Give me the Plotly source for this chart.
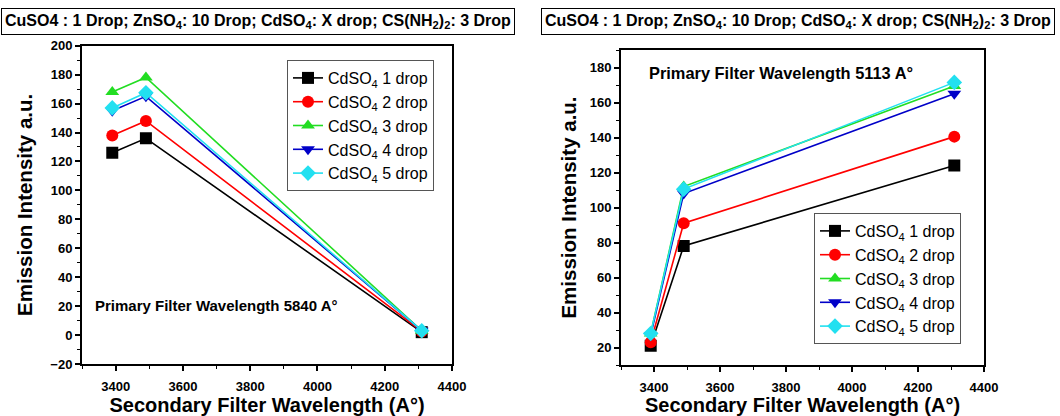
import plotly.graph_objects as go

# ---- data ----
wavelength = [3390, 3490, 4310]
series_names = ["CdSO<sub>4</sub> 1 drop", "CdSO<sub>4</sub> 2 drop", "CdSO<sub>4</sub> 3 drop",
                "CdSO<sub>4</sub> 4 drop", "CdSO<sub>4</sub> 5 drop"]
left_drop1 = [126, 136, 2]
left_drop2 = [138, 148, 2.5]
left_drop3 = [168, 178, 3]
left_drop4 = [155, 165, 3]
left_drop5 = [157, 167.5, 3]
right_drop1 = [21, 78, 124]
right_drop2 = [23, 91, 140.5]
right_drop3 = [28, 112, 169.5]
right_drop4 = [27, 108, 165]
right_drop5 = [28, 110.5, 171.5]

colors = ["#000000", "#FF0000", "#22DD22", "#0000C8", "#22E0F0"]
symbols = ["square", "circle", "triangle-up", "triangle-down", "diamond"]

FONT = "Liberation Sans, Arial, sans-serif"

fig = go.Figure()
left = [left_drop1, left_drop2, left_drop3, left_drop4, left_drop5]
right = [right_drop1, right_drop2, right_drop3, right_drop4, right_drop5]
for i in range(5):
    fig.add_trace(go.Scatter(x=wavelength, y=left[i], name=series_names[i], mode="lines+markers",
                             line=dict(color=colors[i], width=1.6),
                             marker=dict(symbol=symbols[i], size=12, color=colors[i]),
                             xaxis="x", yaxis="y", legend="legend"))
for i in range(5):
    fig.add_trace(go.Scatter(x=wavelength, y=right[i], name=series_names[i], mode="lines+markers",
                             line=dict(color=colors[i], width=1.6),
                             marker=dict(symbol=symbols[i], size=12, color=colors[i]),
                             xaxis="x2", yaxis="y2", legend="legend2"))

axis_common = dict(showline=True, linecolor="black", linewidth=2, mirror=True,
                   ticks="outside", ticklen=5, tickwidth=1.5, tickcolor="black",
                   showgrid=False, zeroline=False,
                   tickfont=dict(family=FONT, size=13, color="black", weight="bold"),
                   minor=dict(ticks="outside", ticklen=3, tickwidth=1.2, tickcolor="black"),
                   automargin=False)
xtitle_font = dict(family=FONT, size=20, color="black", weight="bold")
ytitle_font = dict(family=FONT, size=20.5, color="black", weight="bold")

fig.update_layout(
    width=1060, height=416,
    margin=dict(l=0, r=0, t=0, b=0),
    paper_bgcolor="white", plot_bgcolor="white",
    showlegend=True,
    xaxis=dict(domain=[82/1060, 452/1060], range=[3300, 4400], dtick=200, tick0=3400,
               minor_dtick=100, ticklabelstandoff=4,
               title=dict(text="Secondary Filter Wavelength (A°)", font=xtitle_font, standoff=4),
               anchor="y", **axis_common),
    yaxis=dict(domain=[1-364/416, 1-45.7/416], range=[-20, 200], dtick=20, minor_dtick=10,
               title=dict(text="Emission Intensity a.u.", font=ytitle_font, standoff=12),
               anchor="x", **axis_common),
    xaxis2=dict(domain=[621/1060, 984/1060], range=[3300, 4400], dtick=200, tick0=3400,
                minor_dtick=100, ticklabelstandoff=4,
                title=dict(text="Secondary Filter Wavelength (A°)", font=xtitle_font, standoff=4),
                anchor="y2", **axis_common),
    yaxis2=dict(domain=[1-365/416, 1-50/416], range=[10, 190], dtick=20, tick0=0, minor_dtick=10,
                title=dict(text="Emission Intensity a.u.", font=ytitle_font, standoff=8),
                anchor="x2", **axis_common),
    legend=dict(x=287/1060, y=1-60/416, xanchor="left", yanchor="top",
                bordercolor="#555555", borderwidth=1, bgcolor="white",
                font=dict(family=FONT, size=16, color="black")),
    legend2=dict(x=814/1060, y=1-213/416, xanchor="left", yanchor="top",
                 bordercolor="#555555", borderwidth=1, bgcolor="white",
                 font=dict(family=FONT, size=16, color="black")),
)

header = "CuSO4 : 1 Drop; ZnSO<sub>4</sub>: 10 Drop; CdSO<sub>4</sub>: X drop; CS(NH<sub>2</sub>)<sub>2</sub>: 3 Drop"
for hx in (1, 541):
    fig.add_annotation(text=header, xref="paper", yref="paper", x=hx/1060, y=1-8/416,
                       xanchor="left", yanchor="top", showarrow=False,
                       font=dict(family=FONT, size=16, color="black", weight="bold"),
                       bordercolor="black", borderwidth=1, borderpad=3, bgcolor="white")
fig.add_annotation(text="Primary Filter Wavelength 5840 A°", xref="paper", yref="paper",
                   x=216/1060, y=1-305/416, xanchor="center", yanchor="middle", showarrow=False,
                   font=dict(family=FONT, size=15, color="black", weight="bold"))
fig.add_annotation(text="Primary Filter Wavelength 5113 A°", xref="paper", yref="paper",
                   x=781/1060, y=1-73/416, xanchor="center", yanchor="middle", showarrow=False,
                   font=dict(family=FONT, size=16.4, color="black", weight="bold"))

fig.write_html("out.html", config={"displayModeBar": False},
               post_script="document.body.style.margin='0';document.body.style.overflow='hidden';")
